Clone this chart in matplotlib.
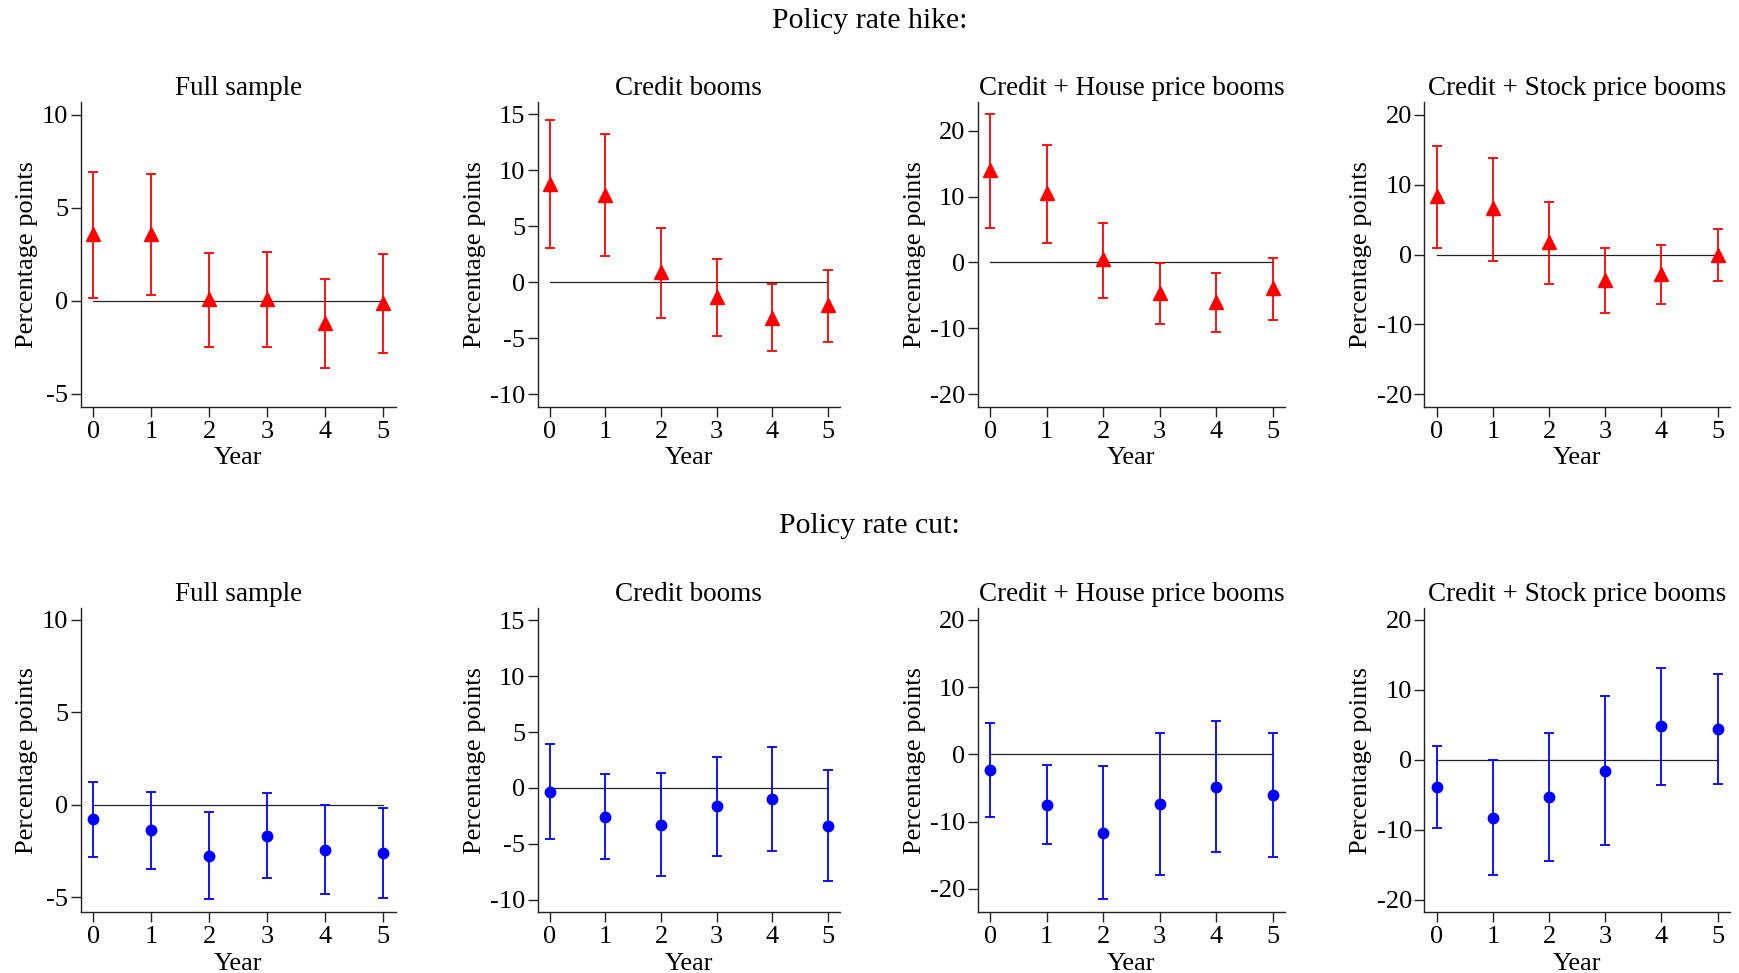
import matplotlib
matplotlib.use("Agg")
import matplotlib.pyplot as plt

plt.rcParams['font.family'] = ['Liberation Serif', 'DejaVu Serif']
plt.rcParams['axes.unicode_minus'] = False

years = [0, 1, 2, 3, 4, 5]
panel_titles = ["Full sample", "Credit booms", "Credit + House price booms", "Credit + Stock price booms"]
row_titles = ["Policy rate hike:", "Policy rate cut:"]

# Policy rate hike: point estimates and confidence bands
hike_full_coef = [3.6, 3.6, 0.1, 0.1, -1.2, -0.14]
hike_full_lo = [0.16, 0.29, -2.5, -2.47, -3.63, -2.83]
hike_full_hi = [6.9, 6.8, 2.58, 2.6, 1.16, 2.49]

hike_credit_coef = [8.8, 7.8, 0.9, -1.35, -3.15, -2.05]
hike_credit_lo = [3.04, 2.35, -3.2, -4.77, -6.17, -5.3]
hike_credit_hi = [14.5, 13.25, 4.83, 2.05, -0.12, 1.1]

hike_house_coef = [14.0, 10.5, 0.5, -4.6, -6.0, -3.9]
hike_house_lo = [5.2, 2.9, -5.37, -9.27, -10.5, -8.67]
hike_house_hi = [22.55, 17.8, 5.93, -0.15, -1.67, 0.71]

hike_stock_coef = [8.4, 6.6, 1.77, -3.6, -2.8, 0.0]
hike_stock_lo = [1.0, -0.86, -4.25, -8.35, -7.06, -3.82]
hike_stock_hi = [15.56, 13.84, 7.5, 1.0, 1.34, 3.63]

# Policy rate cut
cut_full_coef = [-0.77, -1.38, -2.75, -1.67, -2.43, -2.6]
cut_full_lo = [-2.8, -3.47, -5.09, -3.97, -4.8, -5.04]
cut_full_hi = [1.24, 0.72, -0.4, 0.63, 0.02, -0.16]

cut_credit_coef = [-0.33, -2.57, -3.28, -1.61, -1.01, -3.4]
cut_credit_lo = [-4.54, -6.36, -7.88, -6.03, -5.67, -8.33]
cut_credit_hi = [3.91, 1.22, 1.31, 2.8, 3.67, 1.58]

cut_house_coef = [-2.33, -7.52, -11.68, -7.43, -4.85, -6.09]
cut_house_lo = [-9.26, -13.37, -21.53, -17.97, -14.6, -15.25]
cut_house_hi = [4.7, -1.63, -1.78, 3.17, 5.0, 3.12]

cut_stock_coef = [-3.86, -8.33, -5.38, -1.62, 4.76, 4.43]
cut_stock_lo = [-9.71, -16.48, -14.52, -12.19, -3.62, -3.48]
cut_stock_hi = [2.0, -0.1, 3.81, 9.1, 13.14, 12.29]

yticks_list = [[-5, 0, 5, 10], [-10, -5, 0, 5, 10, 15], [-20, -10, 0, 10, 20], [-20, -10, 0, 10, 20]]
ylims_hike = [(-5.7, 10.7), (-11.1, 16.1), (-21.9, 24.4), (-21.8, 21.9)]
ylims_cut = [(-5.8, 10.65), (-11.1, 16.1), (-23.5, 21.8), (-21.8, 21.7)]

hike = [(hike_full_coef, hike_full_lo, hike_full_hi),
        (hike_credit_coef, hike_credit_lo, hike_credit_hi),
        (hike_house_coef, hike_house_lo, hike_house_hi),
        (hike_stock_coef, hike_stock_lo, hike_stock_hi)]
cut = [(cut_full_coef, cut_full_lo, cut_full_hi),
       (cut_credit_coef, cut_credit_lo, cut_credit_hi),
       (cut_house_coef, cut_house_lo, cut_house_hi),
       (cut_stock_coef, cut_stock_lo, cut_stock_hi)]

W, H = 1739, 973
fig = plt.figure(figsize=(W / 100, H / 100), dpi=100)

lefts = [80.7, 537.7, 977.7, 1424.3]
rights = [396, 840, 1285, 1730]
rows = [(101.7, 406.7), (607.7, 912.3)]

def draw(ax, data, title, yticks, ylim, color, marker, ms):
    coef, lo, hi = data
    ax.plot([years[0], years[-1]], [0, 0], color='#222222', lw=0.9, zorder=1)
    yerr = [[c - l for c, l in zip(coef, lo)], [h - c for c, h in zip(coef, hi)]]
    ax.errorbar(years, coef, yerr=yerr, fmt=marker, color=color, ecolor=color,
                elinewidth=1.3, capsize=3.5, capthick=1.3, markersize=ms, zorder=3)
    ax.set_xlim(-0.22, 5.22)
    ax.set_ylim(*ylim)
    ax.set_xticks(years)
    ax.set_yticks(yticks)
    ax.set_title(title, fontsize=19.5, pad=4.5)
    ax.set_xlabel("Year", fontsize=19, labelpad=3.5)
    ax.set_ylabel("Percentage points", fontsize=19, labelpad=3)
    for s in ['top', 'right']:
        ax.spines[s].set_visible(False)
    for s in ['left', 'bottom']:
        ax.spines[s].set_linewidth(1.0)
        ax.spines[s].set_color('#222222')
    ax.tick_params(axis='both', direction='out', length=7, width=1.0, color='#222222',
                   labelsize=19, pad=2)
    ax.tick_params(axis='x', pad=3)

for r, (top, bot) in enumerate(rows):
    for i in range(4):
        ax = fig.add_axes([lefts[i] / W, 1 - bot / H, (rights[i] - lefts[i]) / W, (bot - top) / H])
        if r == 0:
            draw(ax, hike[i], panel_titles[i], yticks_list[i], ylims_hike[i], '#ff0000', '^', 10)
        else:
            draw(ax, cut[i], panel_titles[i], yticks_list[i], ylims_cut[i], '#0000ff', 'o', 7.5)

fig.text(0.5, 1 - 21 / H, row_titles[0], ha='center', va='center', fontsize=21.5)
fig.text(0.5, 1 - 526 / H, row_titles[1], ha='center', va='center', fontsize=21.5)

fig.savefig("out.png", dpi=100, facecolor='white')
